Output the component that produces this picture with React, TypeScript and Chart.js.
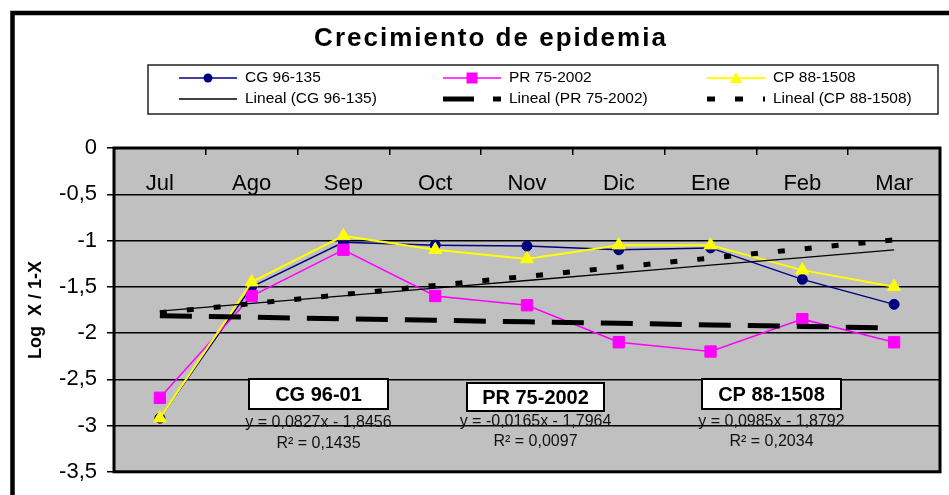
import React, { useEffect, useRef } from 'react';
import { Chart, registerables } from 'chart.js';

Chart.register(...registerables);

// ---- data ----
const months = ['Jul', 'Ago', 'Sep', 'Oct', 'Nov', 'Dic', 'Ene', 'Feb', 'Mar'];
const cg96135 = [-2.92, -1.5, -1.02, -1.05, -1.06, -1.1, -1.08, -1.42, -1.69];
const pr752002 = [-2.7, -1.6, -1.1, -1.6, -1.7, -2.1, -2.2, -1.85, -2.1];
const cp881508 = [-2.92, -1.45, -0.95, -1.1, -1.2, -1.05, -1.05, -1.32, -1.5];
const seriesNames = ['CG 96-135', 'PR 75-2002', 'CP 88-1508'];
const trendNames = ['Lineal (CG 96-135)', 'Lineal (PR 75-2002)', 'Lineal (CP 88-1508)'];
const trendSlopes = [0.0827, -0.0165, 0.0985];
const trendIntercepts = [-1.8456, -1.7964, -1.8792];
const boxLabels = ['CG 96-01', 'PR 75-2002', 'CP 88-1508'];
const equationTexts = ['y = 0,0827x - 1,8456', 'y = -0,0165x - 1,7964', 'y = 0,0985x - 1,8792'];
const r2Texts = ['R² = 0,1435', 'R² = 0,0097', 'R² = 0,2034'];
const titleText = 'Crecimiento de epidemia';
const yAxisTitle = 'Log  X / 1-X';
const yMin = -3.5;
const yMax = 0;
const yStep = 0.5;

const trendValues = (k: number) => months.map((_, i) => trendSlopes[k] * (i + 1) + trendIntercepts[k]);

const FONT = 'Arial, "Liberation Sans", sans-serif';

const seriesColors = ['#000080', '#FF00FF', '#FFFF00'];

const decorPlugin = {
  id: 'decor',
  beforeDraw(chart: any) {
    const { ctx, chartArea: a } = chart;
    ctx.save();
    ctx.fillStyle = '#ffffff';
    ctx.fillRect(0, 0, chart.width, chart.height);
    ctx.fillStyle = '#C0C0C0';
    ctx.fillRect(a.left, a.top, a.right - a.left, a.bottom - a.top);
    ctx.restore();
  },
  afterDatasetsDraw(chart: any) {
    const { ctx, chartArea: a } = chart;
    ctx.save();
    // plot border
    ctx.strokeStyle = '#000';
    ctx.lineWidth = 3;
    ctx.strokeRect(a.left, a.top, a.right - a.left, a.bottom - a.top);

    // trend annotations
    const boxes = [
      { cx: 318.5, top: 379, w: 139, h: 30, eqY: 422.5, r2Y: 444 },
      { cx: 535.5, top: 383, w: 137, h: 28, eqY: 422, r2Y: 442 },
      { cx: 771.5, top: 379, w: 139, h: 30, eqY: 422, r2Y: 442 },
    ];
    boxes.forEach((b, i) => {
      ctx.fillStyle = '#fff';
      ctx.fillRect(b.cx - b.w / 2, b.top, b.w, b.h);
      ctx.strokeStyle = '#000';
      ctx.lineWidth = 2;
      ctx.strokeRect(b.cx - b.w / 2, b.top, b.w, b.h);
      ctx.fillStyle = '#000';
      ctx.textAlign = 'center';
      ctx.textBaseline = 'middle';
      ctx.font = `bold 20px ${FONT}`;
      ctx.fillText(boxLabels[i], b.cx, b.top + b.h / 2 + 1);
      ctx.font = `16px ${FONT}`;
      ctx.fillStyle = '#111';
      ctx.fillText(equationTexts[i], b.cx, b.eqY);
      ctx.fillText(r2Texts[i], b.cx, b.r2Y);
    });
    ctx.restore();
  },
  afterDraw(chart: any) {
    const { ctx } = chart;
    ctx.save();
    // outer border
    ctx.strokeStyle = '#000';
    ctx.lineWidth = 4.5;
    ctx.strokeRect(12.5, 13, 1000, 1000);

    // title
    ctx.fillStyle = '#000';
    ctx.font = `bold 26px ${FONT}`;
    (ctx as any).letterSpacing = '2px';
    ctx.textAlign = 'center';
    ctx.textBaseline = 'middle';
    ctx.fillText(titleText, 491, 39);
    (ctx as any).letterSpacing = '0px';

    // legend box
    ctx.strokeStyle = '#222';
    ctx.lineWidth = 1.5;
    ctx.strokeRect(148, 65, 790, 49);

    const cols = [179, 443, 707];
    const rows = [78, 99];
    const lineLen = 58;
    ctx.textAlign = 'left';
    ctx.textBaseline = 'middle';
    ctx.font = `15.5px ${FONT}`;
    for (let k = 0; k < 3; k++) {
      const x0 = cols[k];
      // series row
      let y = rows[0];
      ctx.strokeStyle = seriesColors[k];
      ctx.lineWidth = k === 2 ? 2 : 1.5;
      ctx.setLineDash([]);
      ctx.beginPath();
      ctx.moveTo(x0, y);
      ctx.lineTo(x0 + lineLen, y);
      ctx.stroke();
      const mx = x0 + lineLen / 2;
      ctx.fillStyle = seriesColors[k];
      ctx.beginPath();
      if (k === 0) {
        ctx.arc(mx, y, 4.5, 0, Math.PI * 2);
      } else if (k === 1) {
        ctx.rect(mx - 5.5, y - 5.5, 11, 11);
      } else {
        ctx.moveTo(mx, y - 6);
        ctx.lineTo(mx + 6, y + 5);
        ctx.lineTo(mx - 6, y + 5);
        ctx.closePath();
      }
      ctx.fill();
      ctx.fillStyle = '#000';
      ctx.fillText(seriesNames[k], x0 + 66, y);

      // trend row
      y = rows[1];
      ctx.strokeStyle = '#000';
      ctx.lineCap = 'butt';
      if (k === 0) {
        ctx.lineWidth = 1.5;
        ctx.setLineDash([]);
      } else if (k === 1) {
        ctx.lineWidth = 5;
        ctx.setLineDash([31, 19]);
      } else {
        ctx.lineWidth = 5;
        ctx.setLineDash([8, 20]);
      }
      ctx.beginPath();
      ctx.moveTo(x0, y);
      ctx.lineTo(x0 + lineLen, y);
      ctx.stroke();
      ctx.setLineDash([]);
      ctx.fillStyle = '#000';
      ctx.fillText(trendNames[k], x0 + 66, y);
    }
    ctx.restore();
  },
};

export default function App() {
  const canvasRef = useRef<HTMLCanvasElement | null>(null);

  useEffect(() => {
    const canvas = canvasRef.current;
    if (!canvas) return;
    const chart = new Chart(canvas, {
      type: 'line',
      data: {
        labels: months,
        datasets: [
          {
            label: trendNames[0],
            data: trendValues(0),
            borderColor: '#000',
            borderWidth: 1.3,
            pointRadius: 0,
            fill: false,
            order: 0,
          },
          {
            label: trendNames[1],
            data: trendValues(1),
            borderColor: '#000',
            borderWidth: 5,
            borderDash: [32, 17],
            borderCapStyle: 'butt',
            pointRadius: 0,
            fill: false,
            order: 0,
          },
          {
            label: trendNames[2],
            data: trendValues(2),
            borderColor: '#000',
            borderWidth: 5,
            borderDash: [7, 20],
            borderCapStyle: 'butt',
            pointRadius: 0,
            fill: false,
            order: 0,
          },
          {
            label: seriesNames[2],
            data: cp881508,
            borderColor: '#FFFF00',
            backgroundColor: '#FFFF00',
            borderWidth: 2,
            pointStyle: 'triangle',
            pointRadius: 7.5,
            pointBorderWidth: 1,
            pointBorderColor: '#FFFF00',
            pointBackgroundColor: '#FFFF00',
            fill: false,
            order: 1,
          },
          {
            label: seriesNames[1],
            data: pr752002,
            borderColor: '#FF00FF',
            backgroundColor: '#FF00FF',
            borderWidth: 1.5,
            pointStyle: 'rect',
            pointRadius: 8,
            pointBorderWidth: 1,
            pointBorderColor: '#FF00FF',
            pointBackgroundColor: '#FF00FF',
            fill: false,
            order: 2,
          },
          {
            label: seriesNames[0],
            data: cg96135,
            borderColor: '#000080',
            backgroundColor: '#000080',
            borderWidth: 1.5,
            pointStyle: 'circle',
            pointRadius: 5,
            pointBorderWidth: 1,
            pointBorderColor: '#000080',
            pointBackgroundColor: '#000080',
            fill: false,
            order: 3,
          },
        ],
      },
      options: {
        responsive: false,
        maintainAspectRatio: false,
        devicePixelRatio: 1,
        animation: false,
        layout: { padding: { left: 16, top: 138, right: 8, bottom: 14 } },
        plugins: {
          legend: { display: false },
          title: { display: false },
          tooltip: { enabled: false },
        },
        scales: {
          x: {
            type: 'category',
            position: 'top',
            offset: true,
            grid: {
              offset: true,
              drawOnChartArea: false,
              drawTicks: true,
              tickLength: -7,
              color: '#000',
              lineWidth: 1.5,
            },
            border: { display: false },
            ticks: {
              color: '#000',
              font: { family: FONT, size: 22 },
              mirror: true,
              padding: 23,
              maxRotation: 0,
              autoSkip: false,
            },
            afterFit: (scale: any) => {
              scale.height = 10;
            },
          },
          y: {
            min: yMin,
            max: yMax,
            grid: {
              color: '#000',
              lineWidth: 1.5,
              tickLength: 7,
              drawTicks: true,
            },
            border: { display: false },
            ticks: {
              stepSize: yStep,
              color: '#000',
              font: { family: FONT, size: 22 },
              padding: 10,
              callback: (v: any) => String(Math.round(Number(v) * 10) / 10).replace('.', ','),
            },
            title: {
              display: true,
              text: yAxisTitle,
              color: '#000',
              font: { family: FONT, size: 18, weight: 'bold' },
              padding: { top: 9, bottom: 0 },
            },
            afterFit: (scale: any) => {
              scale.width = 98;
            },
          },
        },
      },
      plugins: [decorPlugin],
    } as any);
    return () => chart.destroy();
  }, []);

  return (
    <div style={{ position: 'fixed', left: 0, top: 0, width: 949, height: 495, background: '#fff' }}>
      <canvas ref={canvasRef} width={949} height={495} style={{ display: 'block' }} />
    </div>
  );
}
